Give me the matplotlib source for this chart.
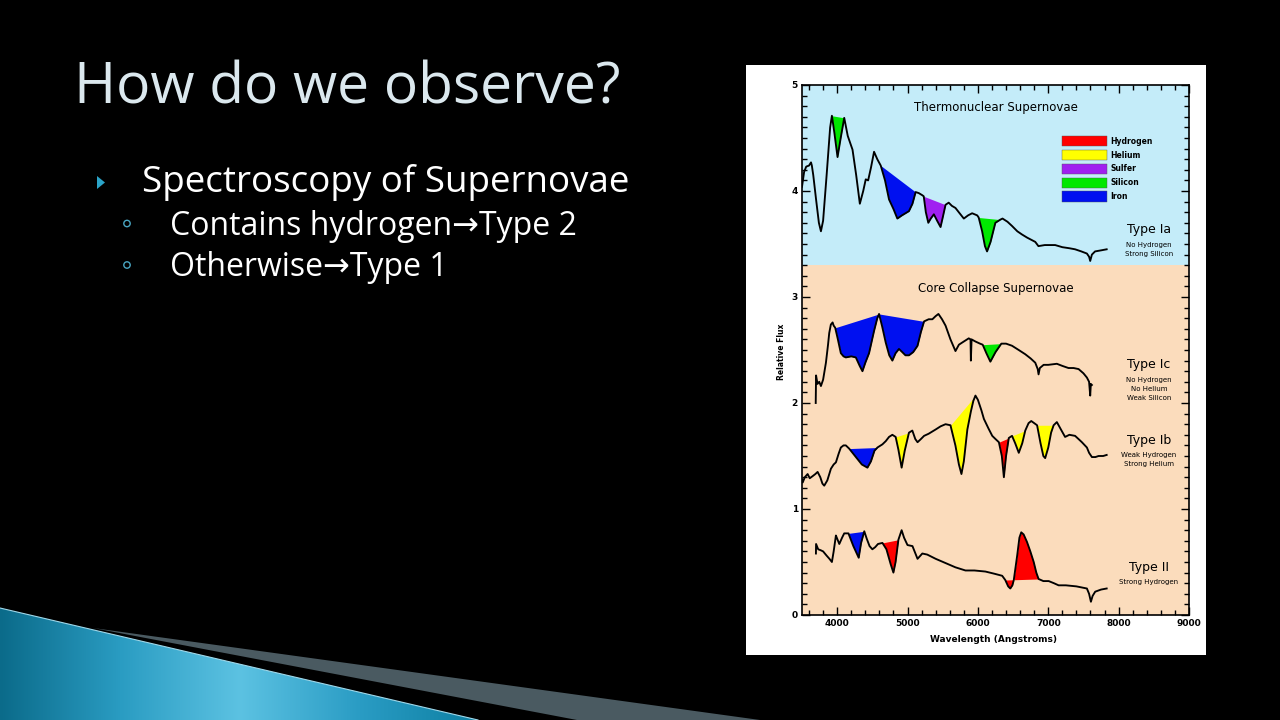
import numpy as np
import matplotlib
matplotlib.use("Agg")
import matplotlib.pyplot as plt
from matplotlib.patches import Polygon, Rectangle, Circle
from matplotlib.colors import LinearSegmentedColormap

# ---------------- data ----------------
ia_wl = [3500, 3530, 3560, 3600, 3628, 3640, 3660, 3700, 3740, 3769, 3800, 3850, 3900, 3925, 3960,
         4005, 4050, 4100, 4150, 4218, 4270, 4322, 4370, 4406, 4440, 4480, 4524, 4570, 4619, 4680,
         4737, 4800, 4855, 4920, 5020, 5070, 5115, 5160, 5210, 5230, 5260, 5295, 5330, 5374, 5420,
         5469, 5500, 5540, 5585, 5630, 5681, 5740, 5800, 5860, 5918, 5990, 6011, 6060, 6100, 6130,
         6180, 6248, 6319, 6350, 6420, 6485, 6560, 6626, 6700, 6815, 6860, 6950, 7098, 7200, 7300,
         7381, 7470, 7549, 7580, 7596, 7620, 7665, 7750, 7830]
ia_fx = [4.04, 4.18, 4.23, 4.24, 4.27, 4.24, 4.15, 3.92, 3.70, 3.62, 3.72, 4.15, 4.60, 4.71, 4.55,
         4.32, 4.50, 4.69, 4.52, 4.39, 4.15, 3.88, 4.00, 4.11, 4.10, 4.22, 4.37, 4.30, 4.24, 4.10,
         3.92, 3.83, 3.74, 3.77, 3.81, 3.88, 3.99, 3.98, 3.96, 3.95, 3.80, 3.70, 3.74, 3.78, 3.72,
         3.66, 3.75, 3.87, 3.89, 3.86, 3.84, 3.79, 3.74, 3.77, 3.79, 3.77, 3.75, 3.62, 3.48, 3.43,
         3.52, 3.70, 3.73, 3.74, 3.71, 3.67, 3.62, 3.59, 3.56, 3.52, 3.48, 3.49, 3.49, 3.47, 3.46,
         3.45, 3.43, 3.41, 3.38, 3.34, 3.40, 3.43, 3.44, 3.45]

ic_wl = [3695, 3700, 3720, 3745, 3769, 3800, 3840, 3870, 3887, 3910, 3935, 3950, 3972, 4010, 4052,
         4090, 4123, 4200, 4265, 4320, 4359, 4400, 4453, 4524, 4570, 4595, 4640, 4690, 4740, 4784,
         4830, 4878, 4925, 4970, 5020, 5080, 5142, 5190, 5235, 5300, 5353, 5400, 5439, 5490, 5540,
         5610, 5681, 5730, 5776, 5870, 5895, 5900, 5910, 5965, 6030, 6068, 6120, 6177, 6250, 6333,
         6400, 6485, 6580, 6673, 6750, 6815, 6850, 6862, 6880, 6934, 7000, 7122, 7200, 7287, 7360,
         7431, 7500, 7549, 7580, 7596, 7605, 7620]
ic_fx = [2.00, 2.26, 2.18, 2.20, 2.16, 2.22, 2.38, 2.55, 2.66, 2.74, 2.76, 2.73, 2.71, 2.60, 2.47,
         2.44, 2.43, 2.44, 2.43, 2.35, 2.30, 2.38, 2.47, 2.68, 2.80, 2.84, 2.72, 2.57, 2.45, 2.40,
         2.47, 2.51, 2.48, 2.45, 2.45, 2.48, 2.54, 2.67, 2.77, 2.79, 2.79, 2.82, 2.84, 2.79, 2.73,
         2.60, 2.49, 2.55, 2.57, 2.61, 2.60, 2.40, 2.60, 2.58, 2.56, 2.55, 2.47, 2.39, 2.48, 2.56,
         2.56, 2.54, 2.50, 2.46, 2.42, 2.38, 2.32, 2.27, 2.33, 2.36, 2.36, 2.37, 2.35, 2.33, 2.33,
         2.32, 2.28, 2.24, 2.20, 2.07, 2.18, 2.17]

ib_wl = [3500, 3510, 3540, 3580, 3610, 3651, 3690, 3722, 3760, 3790, 3816, 3860, 3911, 3950, 3982,
         4020, 4052, 4090, 4123, 4170, 4230, 4290, 4350, 4430, 4480, 4530, 4572, 4643, 4690, 4737,
         4784, 4831, 4870, 4916, 4960, 5020, 5068, 5110, 5142, 5190, 5235, 5300, 5399, 5470, 5540,
         5610, 5680, 5730, 5766, 5800, 5850, 5900, 5935, 5965, 6000, 6050, 6085, 6150, 6204, 6250,
         6298, 6340, 6369, 6400, 6439, 6485, 6530, 6581, 6630, 6673, 6720, 6758, 6800, 6841, 6890,
         6930, 6956, 7000, 7040, 7076, 7122, 7180, 7239, 7300, 7381, 7430, 7478, 7549, 7580, 7620,
         7670, 7715, 7780, 7830]
ib_fx = [1.28, 1.25, 1.30, 1.33, 1.29, 1.31, 1.33, 1.35, 1.30, 1.24, 1.22, 1.27, 1.38, 1.42, 1.44,
         1.52, 1.58, 1.60, 1.60, 1.57, 1.52, 1.47, 1.42, 1.39, 1.45, 1.55, 1.58, 1.61, 1.64, 1.68,
         1.70, 1.68, 1.56, 1.39, 1.55, 1.72, 1.74, 1.66, 1.63, 1.66, 1.69, 1.71, 1.75, 1.78, 1.80,
         1.79, 1.60, 1.42, 1.33, 1.45, 1.75, 1.92, 2.02, 2.07, 2.03, 1.93, 1.85, 1.76, 1.69, 1.66,
         1.63, 1.50, 1.30, 1.50, 1.67, 1.69, 1.62, 1.53, 1.62, 1.74, 1.81, 1.83, 1.81, 1.79, 1.62,
         1.50, 1.48, 1.58, 1.72, 1.79, 1.82, 1.75, 1.68, 1.70, 1.69, 1.66, 1.63, 1.58, 1.53, 1.49,
         1.49, 1.50, 1.50, 1.51]

ii_wl = [3698, 3700, 3730, 3769, 3800, 3850, 3890, 3925, 3950, 3982, 4000, 4030, 4070, 4100, 4123,
         4160, 4230, 4306, 4340, 4385, 4420, 4460, 4500, 4540, 4580, 4643, 4700, 4760, 4799, 4830,
         4870, 4916, 4950, 4999, 5070, 5142, 5210, 5280, 5400, 5540, 5680, 5823, 5950, 6106, 6230,
         6345, 6389, 6430, 6460, 6490, 6510, 6535, 6558, 6590, 6616, 6650, 6697, 6745, 6793, 6830,
         6862, 6930, 7006, 7080, 7147, 7250, 7400, 7549, 7580, 7606, 7630, 7667, 7750, 7830]
ii_fx = [0.58, 0.67, 0.62, 0.61, 0.60, 0.56, 0.53, 0.50, 0.60, 0.75, 0.72, 0.67, 0.73, 0.77, 0.77,
         0.77, 0.65, 0.54, 0.68, 0.79, 0.72, 0.65, 0.62, 0.64, 0.67, 0.68, 0.62, 0.48, 0.40, 0.50,
         0.71, 0.80, 0.73, 0.66, 0.65, 0.53, 0.58, 0.57, 0.53, 0.49, 0.45, 0.42, 0.42, 0.41, 0.39,
         0.37, 0.33, 0.27, 0.25, 0.28, 0.33, 0.45, 0.56, 0.73, 0.78, 0.76, 0.69, 0.60, 0.50, 0.40,
         0.34, 0.32, 0.32, 0.30, 0.28, 0.28, 0.27, 0.25, 0.20, 0.125, 0.18, 0.22, 0.24, 0.25]

# element features: (start wavelength, end wavelength, element)
ia_features = [(3925, 4100, "Silicon"), (4619, 5115, "Iron"), (5230, 5540, "Sulfer"), (6011, 6319, "Silicon")]
ic_features = [(3972, 4595, "Iron"), (4595, 5235, "Iron"), (6068, 6333, "Silicon")]
ib_features = [(4170, 4572, "Iron"), (4831, 5020, "Helium"), (5610, 5965, "Helium"),
               (6298, 6439, "Hydrogen"), (6485, 6673, "Helium"), (6841, 7076, "Helium")]
ii_features = [(4160, 4385, "Iron"), (4643, 4870, "Hydrogen"), (6389, 6862, "Hydrogen")]

elements = ["Hydrogen", "Helium", "Sulfer", "Silicon", "Iron"]
element_colors = ["#ff0000", "#ffff00", "#a020f0", "#00e800", "#0010f0"]
color_of = dict(zip(elements, element_colors))

x_ticks = [4000, 5000, 6000, 7000, 8000, 9000]
y_ticks = [0, 1, 2, 3, 4, 5]

title_text = "How do we observe?"
bullet_text = "Spectroscopy of Supernovae"
sub_bullets = ["Contains hydrogen\u2192Type 2", "Otherwise\u2192Type 1"]

# ---------------- figure / slide ----------------
W, H = 1280, 720
fig = plt.figure(figsize=(12.8, 7.2), dpi=100, facecolor="black")
bg = fig.add_axes([0, 0, 1, 1])
bg.set_xlim(0, W)
bg.set_ylim(H, 0)
bg.axis("off")
bg.set_facecolor("black")

# bottom-left decoration: blue wedge with gradient
blue_poly = Polygon([(0, 608), (478, 720), (0, 720)], closed=True, facecolor="none", edgecolor="none")
bg.add_patch(blue_poly)
gx = np.linspace(0, 1, 256)
cmap = LinearSegmentedColormap.from_list("slideblue", ["#0b6b8a", "#2a9cc2", "#5cc2e2", "#2a9cc4", "#0d7fa2"])
grad = np.tile(gx, (10, 1))
im = bg.imshow(grad, extent=(0, 480, 720, 600), cmap=cmap, aspect="auto", zorder=1)
im.set_clip_path(blue_poly)
bg.plot([0, 478], [608, 720], color="#9fd8ea", lw=0.8, zorder=2)
# gray band
bg.add_patch(Polygon([(93, 628), (760, 720), (577, 720)], closed=True,
                     facecolor="#4a5a61", edgecolor="none", zorder=1))

# white frame behind chart
bg.add_patch(Rectangle((746, 65), 460, 590, facecolor="white", edgecolor="none", zorder=1))

# slide text
fam = ["Open Sans", "DejaVu Sans"]
bg.text(74, 104, title_text, fontsize=41, color="#dbe8ee", family=fam, va="baseline", ha="left", zorder=3)
bg.add_patch(Polygon([(97, 176), (105, 182.5), (97, 189)], closed=True, facecolor="#2ba4c8",
                     edgecolor="none", zorder=3))
bg.text(142, 192, bullet_text, fontsize=26.5, color="white", family=fam, va="baseline", ha="left", zorder=3)
for i, s in enumerate(sub_bullets):
    yb = 235 + 41.5 * i
    bg.add_patch(Circle((127, yb - 11.5), 3.2, facecolor="none", edgecolor="#4aa6c2", lw=1.0, zorder=3))
    bg.text(170, yb, s, fontsize=23, color="white", family=fam, va="baseline", ha="left", zorder=3)

# ---------------- chart ----------------
ax = fig.add_axes([802 / W, (H - 615) / H, 387 / W, 530 / H])
ax.set_xlim(3500, 9000)
ax.set_ylim(0, 5)
ax.axhspan(3.3, 5, color="#c4ecf9", lw=0, zorder=0)
ax.axhspan(0, 3.3, color="#fbdcbc", lw=0, zorder=0)


def draw_spectrum(wl, fx, features):
    wl = np.asarray(wl, float)
    fx = np.asarray(fx, float)
    for start, end, el in features:
        m = (wl >= start) & (wl <= end)
        xs, ys = wl[m], fx[m]
        y0, y1 = np.interp(start, wl, fx), np.interp(end, wl, fx)
        line = y0 + (y1 - y0) * (xs - start) / (end - start)
        ax.fill_between(xs, ys, line, color=color_of[el], lw=0, zorder=2)
    ax.plot(wl, fx, color="black", lw=1.35, zorder=3)


draw_spectrum(ia_wl, ia_fx, ia_features)
draw_spectrum(ic_wl, ic_fx, ic_features)
draw_spectrum(ib_wl, ib_fx, ib_features)
draw_spectrum(ii_wl, ii_fx, ii_features)

# legend boxes
for i, (el, c) in enumerate(zip(elements, element_colors)):
    top = 4.52 - 0.131 * i
    ax.add_patch(Rectangle((7193, top - 0.10), 637, 0.10, facecolor=c, edgecolor="#555555", lw=0.3, zorder=4))
    ax.text(7880, top - 0.05, el, fontsize=5.5, fontweight="bold", va="center", ha="left", zorder=4)

cf = "DejaVu Sans"
ax.text(6250, 4.79, "Thermonuclear Supernovae", fontsize=8.5, ha="center", va="center", family=cf)
ax.text(6250, 3.08, "Core Collapse Supernovae", fontsize=8.5, ha="center", va="center", family=cf)

labels = [
    ("Type Ia", 3.64, ["No Hydrogen", "Strong Silicon"], 3.49),
    ("Type Ic", 2.36, ["No Hydrogen", "No Helium", "Weak Silicon"], 2.22),
    ("Type Ib", 1.65, ["Weak Hydrogen", "Strong Helium"], 1.51),
    ("Type II", 0.45, ["Strong Hydrogen"], 0.31),
]
for name, yname, subs, ysub in labels:
    ax.text(8430, yname, name, fontsize=9, ha="center", va="center", family=cf)
    for j, s in enumerate(subs):
        ax.text(8430, ysub - 0.088 * j, s, fontsize=5, ha="center", va="center", family=cf)

ax.set_xticks(x_ticks)
ax.set_xticklabels([str(t) for t in x_ticks])
ax.set_yticks(y_ticks)
ax.set_yticklabels([str(t) for t in y_ticks])
ax.set_xticks(np.arange(3600, 9000, 200), minor=True)
ax.set_yticks(np.arange(0, 5.0, 0.1), minor=True)
ax.tick_params(which="both", direction="in", top=True, right=True, width=1.0, color="black")
ax.tick_params(which="major", length=6, labelsize=6.5, pad=3)
ax.tick_params(which="minor", length=3.5)
for lab in ax.get_xticklabels() + ax.get_yticklabels():
    lab.set_fontweight("bold")
for sp in ax.spines.values():
    sp.set_linewidth(1.2)
ax.text(0.496, -0.047, "Wavelength (Angstroms)", transform=ax.transAxes, ha="center", va="center",
        fontsize=6.5, fontweight="bold")
ax.text(-0.054, 0.496, "Relative Flux", transform=ax.transAxes, ha="center", va="center",
        rotation=90, fontsize=5.5, fontweight="bold")

fig.savefig("out.png", dpi=100, facecolor="black")
